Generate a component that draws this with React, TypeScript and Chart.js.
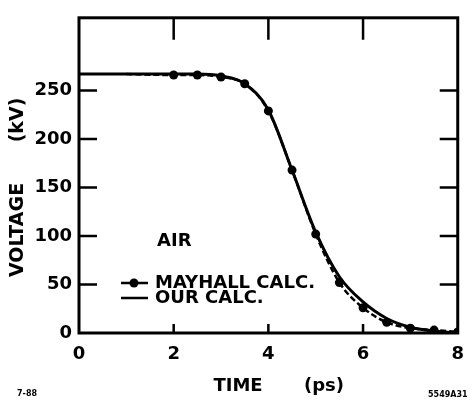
import React, { useEffect, useRef } from "react";
import { Chart, registerables } from "chart.js";

Chart.register(...registerables);

const xTicks = [0, 2, 4, 6, 8];
const yTicks = [0, 50, 100, 150, 200, 250];
const yRightTicks = [50, 100, 150, 200, 250];
const xInnerTicks = [2, 4, 6];

const ourTime = [0, 0.5, 1, 1.5, 2, 2.5, 3, 3.5, 4, 4.5, 5, 5.5, 6, 6.5, 7, 7.5, 8];
const ourVoltage = [267, 267, 267, 267, 267, 267, 265, 257, 230, 168, 104, 58, 32, 15, 6, 2, 0];

const mayhallTime = [1, 2, 2.5, 3, 3.5, 4, 4.5, 5, 5.5, 6, 6.5, 7, 7.5, 8];
const mayhallVoltage = [267, 266, 266, 264, 257, 229, 168, 102, 52, 26, 11, 5, 3, 1];
const mayhallDots = [0, 4.5, 4.5, 4.5, 4.5, 4.5, 4.5, 4.5, 4.5, 4.5, 4.5, 4.5, 4.5, 4.5];

const FONT = '"DejaVu Sans", sans-serif';

const framePlugin = {
  id: "frame",
  afterDraw(chart: any) {
    const { ctx, chartArea } = chart;
    const { left, right, top, bottom } = chartArea;
    const xs = chart.scales.x;
    const ys = chart.scales.y;
    ctx.save();
    ctx.strokeStyle = "#000";
    ctx.fillStyle = "#000";
    ctx.lineWidth = 3;
    ctx.strokeRect(left, top, right - left, bottom - top);
    ctx.lineWidth = 2.5;
    ctx.beginPath();
    for (const v of yTicks) {
      if (v === 0) continue;
      const y = ys.getPixelForValue(v);
      ctx.moveTo(left, y);
      ctx.lineTo(left + 18, y);
    }
    for (const v of yRightTicks) {
      const y = ys.getPixelForValue(v);
      ctx.moveTo(right, y);
      ctx.lineTo(right - 18, y);
    }
    for (const v of xInnerTicks) {
      const x = xs.getPixelForValue(v);
      ctx.moveTo(x, top);
      ctx.lineTo(x, top + 22);
      ctx.moveTo(x, bottom);
      ctx.lineTo(x, bottom - 9);
    }
    ctx.stroke();

    // axis titles
    ctx.font = `bold 18px ${FONT}`;
    ctx.textAlign = "center";
    ctx.textBaseline = "middle";
    ctx.fillText("TIME", 238, 386);
    ctx.fillText("(ps)", 324, 386);
    ctx.save();
    ctx.translate(18, 0);
    ctx.rotate(-Math.PI / 2);
    ctx.font = `bold 19px ${FONT}`;
    ctx.fillText("VOLTAGE", -230, 0);
    ctx.fillText("(kV)", -120, 0);
    ctx.restore();

    // legend
    ctx.textAlign = "left";
    ctx.font = `bold 18px ${FONT}`;
    ctx.fillText("AIR", 157, 241);
    ctx.fillText("MAYHALL CALC.", 155, 283);
    ctx.fillText("OUR CALC.", 155, 298);
    ctx.lineWidth = 2.5;
    ctx.beginPath();
    ctx.moveTo(121, 283);
    ctx.lineTo(148, 283);
    ctx.moveTo(121, 298);
    ctx.lineTo(148, 298);
    ctx.stroke();
    ctx.beginPath();
    ctx.arc(134, 283, 4.5, 0, Math.PI * 2);
    ctx.fill();

    // figure notes
    ctx.font = `bold 8px ${FONT}`;
    ctx.fillText("7-88", 17, 394);
    ctx.fillText("5549A31", 428, 395);
    ctx.restore();
  },
};

export default function App() {
  const ref = useRef<HTMLCanvasElement>(null);
  useEffect(() => {
    document.body.style.margin = "0";
    const chart = new Chart(ref.current as HTMLCanvasElement, {
      type: "line",
      data: {
        datasets: [
          {
            label: "MAYHALL CALC.",
            data: mayhallTime.map((t, i) => ({ x: t, y: mayhallVoltage[i] })),
            borderColor: "#000",
            backgroundColor: "#000",
            borderWidth: 2.5,
            borderDash: [6, 3],
            pointRadius: mayhallDots,
            pointBackgroundColor: "#000",
            pointBorderWidth: 0,
            cubicInterpolationMode: "monotone",
          },
          {
            label: "OUR CALC.",
            data: ourTime.map((t, i) => ({ x: t, y: ourVoltage[i] })),
            borderColor: "#000",
            borderWidth: 3,
            pointRadius: 0,
            cubicInterpolationMode: "monotone",
          },
        ],
      },
      options: {
        animation: false,
        responsive: false,
        devicePixelRatio: 1,
        layout: { padding: { top: 12, right: 12, left: 0, bottom: 0 } },
        plugins: { legend: { display: false }, tooltip: { enabled: false } },
        scales: {
          x: {
            type: "linear",
            min: 0,
            max: 8,
            grid: { display: false, drawTicks: false },
            border: { display: false },
            afterBuildTicks: (s: any) => {
              s.ticks = xTicks.map((v) => ({ value: v }));
            },
            afterFit: (s: any) => {
              s.height = 67;
            },
            ticks: {
              color: "#000",
              padding: 11,
              maxRotation: 0,
              font: { family: FONT, size: 18, weight: "bold" },
            },
          },
          y: {
            type: "linear",
            min: 0,
            max: 325,
            grid: { display: false, drawTicks: false },
            border: { display: false },
            afterBuildTicks: (s: any) => {
              s.ticks = yTicks.map((v) => ({ value: v }));
            },
            afterFit: (s: any) => {
              s.width = 79;
            },
            ticks: {
              color: "#000",
              padding: 7,
              font: { family: FONT, size: 18, weight: "bold" },
            },
          },
        },
      },
      plugins: [framePlugin],
    } as any);
    return () => chart.destroy();
  }, []);
  return <canvas ref={ref} width={475} height={400} style={{ display: "block" }} />;
}
